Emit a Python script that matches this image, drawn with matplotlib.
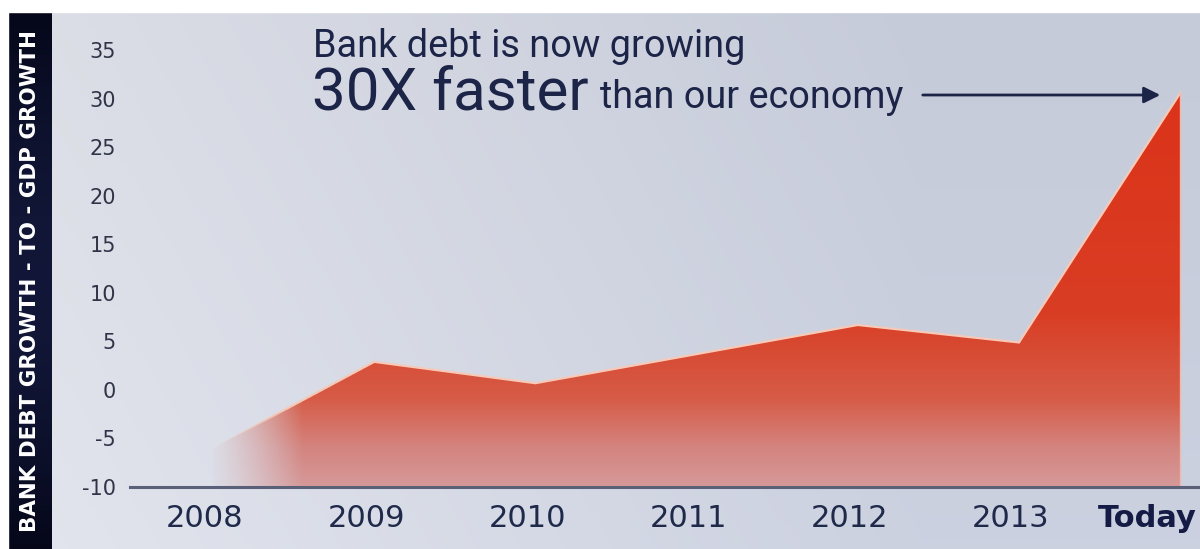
import numpy as np
import matplotlib
matplotlib.use("Agg")
import matplotlib.pyplot as plt
from matplotlib.path import Path
from matplotlib.patches import PathPatch, Rectangle, FancyArrowPatch
import matplotlib.transforms as mtransforms

# ---- data ----
categories = ["2008", "2009", "2010", "2011", "2012", "2013", "Today"]
ratio = [-6.0, 2.9, 0.7, 3.7, 6.7, 4.9, 30.6]
y_ticks = [-10, -5, 0, 5, 10, 15, 20, 25, 30, 35]
y_label = "BANK DEBT GROWTH - TO - GDP GROWTH"
headline1 = "Bank debt is now growing"
headline2a = "30X faster"
headline2b = "than our economy"

W, H = 1200, 549
fig = plt.figure(figsize=(W / 100, H / 100), dpi=100)
renderer = fig.canvas.get_renderer()


def fit_text(xpx, ypx, s, width_px, base=20, **kw):
    t = fig.text(xpx / W, 1 - ypx / H, s, fontsize=base, ha="left",
                 va="baseline", **kw)
    w = t.get_window_extent(renderer).width
    t.set_fontsize(base * width_px / w)
    return t


# background gradient (figure level)
bg = fig.add_axes([0, 0, 1, 1], zorder=-10)
bg.set_axis_off()
gx = np.linspace(0, 1, 300)
gy = np.linspace(0, 1, 150)
GX, GY = np.meshgrid(gx, gy)
c_left = np.array([0.89, 0.90, 0.93])
c_right = np.array([0.80, 0.82, 0.88])
t = np.clip(GX * 1.3, 0, 1)[..., None]
img = c_left * (1 - t) + c_right * t
img = img * (1 - 0.03 * GY[..., None])
bg.imshow(img, extent=[0, 1, 0, 1], aspect="auto", origin="lower")
bg.set_xlim(0, 1)
bg.set_ylim(0, 1)
bg.add_patch(Rectangle((0, 1 - 12 / H), 1, 12 / H, color="white", zorder=5))
band = np.linspace(0, 1, 100)[:, None]
band_img = np.zeros((100, 2, 3))
band_img[..., 0] = 0.02 + 0.05 * np.sin(band * np.pi)
band_img[..., 1] = 0.03 + 0.06 * np.sin(band * np.pi)
band_img[..., 2] = 0.10 + 0.12 * np.sin(band * np.pi)
bg.imshow(band_img, extent=[8 / W, 52 / W, 0, 1 - 12 / H], aspect="auto",
          origin="lower", zorder=4)
bg.add_patch(Rectangle((0, 0), 8 / W, 1, color="white", zorder=5))
fig.text(30 / W, (549 - 281) / H, y_label, rotation=90, color="white",
         fontsize=15.4, fontweight="bold", ha="center", va="center",
         family="DejaVu Sans")

# main axes
ax = fig.add_axes([130 / W, (H - 487) / H, 1 - 130 / W, 487 / H])
ax.patch.set_alpha(0)
x = np.arange(len(categories))
x0_px, step_px = 213, 161.2
ax.set_xlim((130 - x0_px) / step_px, (1200 - x0_px) / step_px)
ax.set_ylim(-10, 40.2)

# gradient fill clipped to area
ax.fill_between(x, ratio, -10, color="none", lw=0)
verts = [(x[0], -10)] + [(float(a), float(b)) for a, b in zip(x, ratio)] + \
        [(x[-1], -10), (x[0], -10)]
clip = PathPatch(Path(verts, closed=True), transform=ax.transData,
                 facecolor="none", edgecolor="none")
ax.add_patch(clip)
ny, nx = 300, 400
yv = np.linspace(-10, 31, ny)
stops_v = [-10, -6, -1, 8, 31]
stops_c = np.array([[0.84, 0.60, 0.60],
                    [0.83, 0.52, 0.50],
                    [0.84, 0.36, 0.28],
                    [0.85, 0.24, 0.14],
                    [0.86, 0.20, 0.10]])
col = np.stack([np.interp(yv, stops_v, stops_c[:, k]) for k in range(3)], axis=-1)
rgb = np.broadcast_to(col[:, None, :], (ny, nx, 3))
xx = np.linspace(x[0] - 0.05, x[-1], nx)[None, :]
alpha = np.clip((xx - x[0] + 0.05) / 0.6, 0, 1) ** 1.3
alpha = np.broadcast_to(alpha, (ny, nx))
rgba = np.dstack([rgb, alpha])
im = ax.imshow(rgba, extent=[x[0] - 0.05, x[-1], -10, 31], origin="lower",
               aspect="auto", interpolation="bilinear", zorder=2)
im.set_clip_path(clip)

# top edge highlight
edge = "#f6c9b8"
ax.plot(x[1:], ratio[1:], color=edge, lw=1.6, zorder=3, solid_joinstyle="miter")
seg = np.linspace(0, 1, 30)
for i in range(len(seg) - 1):
    xa = x[0] + seg[i] * (x[1] - x[0])
    xb = x[0] + seg[i + 1] * (x[1] - x[0])
    ya = ratio[0] + seg[i] * (ratio[1] - ratio[0])
    yb = ratio[0] + seg[i + 1] * (ratio[1] - ratio[0])
    a = float(np.clip((seg[i] - 0.05) / 0.4, 0, 1))
    ax.plot([xa, xb], [ya, yb], color=edge, lw=1.6, alpha=a, zorder=3,
            solid_capstyle="butt")
ax.plot([x[-1], x[-1]], [-10, ratio[-1]], color="#f0b8a8", lw=1.0, zorder=3)

# axes styling
for s in ["top", "right", "left"]:
    ax.spines[s].set_visible(False)
ax.spines["bottom"].set_color("#5a6078")
ax.spines["bottom"].set_linewidth(2.2)
ax.spines["bottom"].set_zorder(4)
ax.set_yticks(y_ticks)
ax.set_yticklabels([str(v) for v in y_ticks])
ax.tick_params(axis="y", length=0, pad=10, labelsize=15, labelcolor="#2f3448")
ax.set_xticks(x)
ax.set_xticklabels(categories)
ax.tick_params(axis="x", length=0, pad=12, labelsize=22, labelcolor="#1f2a4a")
offset = mtransforms.ScaledTranslation(-8 / 100, 0, fig.dpi_scale_trans)
for lab in ax.get_xticklabels()[:-1]:
    lab.set_transform(lab.get_transform() + offset)
today = ax.get_xticklabels()[-1]
today.set_fontweight("bold")
today.set_fontsize(22)
today.set_color("#141c45")
today.set_ha("right")
today.set_transform(today.get_transform() +
                    mtransforms.ScaledTranslation(17 / 100, 0, fig.dpi_scale_trans))

# headline text
navy = "#1c2448"
fit_text(313, 57, headline1, 432, color=navy, family="Roboto")
fit_text(312, 110, headline2a, 276, color=navy, family="Roboto")
fit_text(600, 108, headline2b, 302, color=navy, family="Roboto")

# arrow
fig.add_artist(FancyArrowPatch(
    (920 / W, 1 - 95 / H), (1163 / W, 1 - 95 / H), transform=fig.transFigure,
    arrowstyle="-|>,head_length=0.7,head_width=0.35", color=navy, lw=2,
    mutation_scale=14))

fig.savefig("out.png", dpi=100)
